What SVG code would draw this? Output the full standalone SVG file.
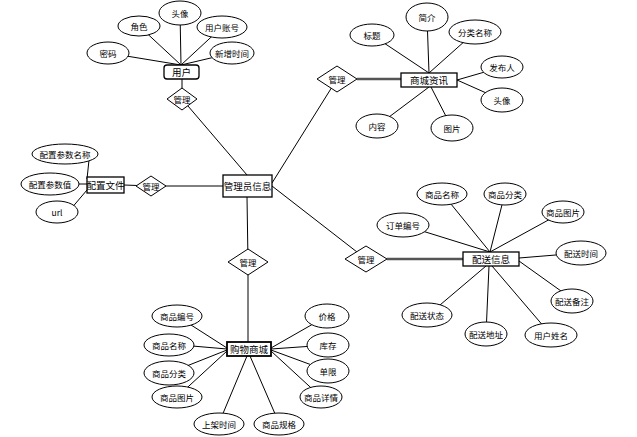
<svg xmlns="http://www.w3.org/2000/svg" width="637" height="437" viewBox="0 0 637 437">
<style>
.bg{fill:#fff}
.ln{stroke:#000;stroke-width:1;fill:none}
.tk{stroke:#555;stroke-width:2.5;fill:none}
.el{fill:#fff;stroke:#000;stroke-width:1}
.bx{fill:#fff;stroke:#000;stroke-width:1.3}
.dm{fill:#fff;stroke:#000;stroke-width:1}
text{font-family:"Noto Sans CJK SC","Liberation Sans",sans-serif;font-size:8.5px;fill:#000;text-anchor:middle;dominant-baseline:central}
.et{font-size:9.5px}
</style>
<rect class="bg" x="0" y="0" width="637" height="437"/>
<g id="connectors">
<line class="ln" x1="108" y1="53" x2="181" y2="65"/>
<line class="ln" x1="139" y1="26" x2="181" y2="65"/>
<line class="ln" x1="180" y1="12" x2="181" y2="65"/>
<line class="ln" x1="222" y1="27" x2="181" y2="65"/>
<line class="ln" x1="232" y1="53" x2="181" y2="65"/>
<line class="ln" x1="182" y1="79" x2="182" y2="99"/>
<line class="ln" x1="182" y1="99" x2="247" y2="175"/>
<line class="ln" x1="337" y1="79" x2="272" y2="183"/>
<line class="tk" x1="357" y1="79" x2="401" y2="79"/>
<line class="ln" x1="372" y1="35" x2="429" y2="73"/>
<line class="ln" x1="427" y1="17" x2="429" y2="73"/>
<line class="ln" x1="475" y1="32" x2="429" y2="73"/>
<line class="ln" x1="502" y1="67" x2="457" y2="80"/>
<line class="ln" x1="502" y1="100" x2="457" y2="80"/>
<line class="ln" x1="377" y1="126" x2="429" y2="87"/>
<line class="ln" x1="452" y1="128" x2="431" y2="87"/>
<line class="ln" x1="89" y1="160" x2="87" y2="179"/>
<line class="ln" x1="79" y1="184" x2="87" y2="184"/>
<line class="ln" x1="70" y1="210" x2="87" y2="190"/>
<line class="ln" x1="124" y1="185" x2="151" y2="186"/>
<line class="ln" x1="151" y1="186" x2="223" y2="186"/>
<line class="ln" x1="247" y1="197" x2="248" y2="262"/>
<line class="ln" x1="248" y1="262" x2="248" y2="342"/>
<line class="ln" x1="177" y1="316" x2="227" y2="348"/>
<line class="ln" x1="169" y1="344" x2="227" y2="349"/>
<line class="ln" x1="169" y1="373" x2="227" y2="350"/>
<line class="ln" x1="177" y1="397" x2="227" y2="351"/>
<line class="ln" x1="219" y1="423" x2="247" y2="356"/>
<line class="ln" x1="279" y1="423" x2="250" y2="356"/>
<line class="ln" x1="327" y1="316" x2="271" y2="348"/>
<line class="ln" x1="328" y1="345" x2="271" y2="349"/>
<line class="ln" x1="328" y1="371" x2="271" y2="350"/>
<line class="ln" x1="321" y1="397" x2="271" y2="351"/>
<line class="ln" x1="272" y1="186" x2="366" y2="259"/>
<line class="tk" x1="387" y1="259" x2="463" y2="259"/>
<line class="ln" x1="442" y1="193" x2="490" y2="252"/>
<line class="ln" x1="505" y1="193" x2="490" y2="252"/>
<line class="ln" x1="563" y1="212" x2="490" y2="252"/>
<line class="ln" x1="403" y1="225" x2="490" y2="252"/>
<line class="ln" x1="580" y1="253" x2="519" y2="258"/>
<line class="ln" x1="575" y1="301" x2="519" y2="261"/>
<line class="ln" x1="551" y1="335" x2="492" y2="266"/>
<line class="ln" x1="486" y1="334" x2="489" y2="266"/>
<line class="ln" x1="427" y1="316" x2="486" y2="266"/>
</g>
<g id="admin"><rect class="bx" x="223" y="175" width="49" height="22"/><text class="et" x="247.5" y="186">管理员信息</text></g>
<g id="user"><rect class="bx" x="164" y="65" width="35" height="14" rx="3"/><text class="et" x="181.5" y="72">用户</text></g>
<g id="user-pwd"><ellipse class="el" cx="108" cy="53" rx="21" ry="11"/><text x="108" y="53">密码</text></g>
<g id="user-role"><ellipse class="el" cx="139" cy="26" rx="21" ry="10"/><text x="139" y="26">角色</text></g>
<g id="user-avatar"><ellipse class="el" cx="180" cy="13" rx="21" ry="12"/><text x="180" y="13">头像</text></g>
<g id="user-account"><ellipse class="el" cx="222" cy="27" rx="25" ry="11"/><text x="222" y="27">用户账号</text></g>
<g id="user-time"><ellipse class="el" cx="232" cy="53" rx="22" ry="11"/><text x="232" y="53">新增时间</text></g>
<g id="rel-user"><polygon class="dm" points="182,88 197,99 182,110 167,99"/><text x="182" y="99">管理</text></g>
<g id="news"><rect class="bx" x="401" y="73" width="56" height="14"/><text class="et" x="429" y="80">商城资讯</text></g>
<g id="rel-news"><polygon class="dm" points="337,66 357,79 337,92 317,79"/><text x="337" y="79">管理</text></g>
<g id="news-title"><ellipse class="el" cx="372" cy="35" rx="22" ry="11"/><text x="372" y="35">标题</text></g>
<g id="news-intro"><ellipse class="el" cx="427" cy="17" rx="21" ry="14"/><text x="427" y="17">简介</text></g>
<g id="news-cat"><ellipse class="el" cx="475" cy="32" rx="26" ry="12"/><text x="475" y="32">分类名称</text></g>
<g id="news-pub"><ellipse class="el" cx="502" cy="67" rx="21" ry="11"/><text x="502" y="67">发布人</text></g>
<g id="news-avatar"><ellipse class="el" cx="502" cy="100" rx="21" ry="12"/><text x="502" y="100">头像</text></g>
<g id="news-content"><ellipse class="el" cx="377" cy="126" rx="21" ry="12"/><text x="377" y="126">内容</text></g>
<g id="news-img"><ellipse class="el" cx="452" cy="128" rx="21" ry="13"/><text x="452" y="128">图片</text></g>
<g id="config"><rect class="bx" x="87" y="177" width="37" height="16"/><text class="et" x="105.5" y="185">配置文件</text></g>
<g id="rel-config"><polygon class="dm" points="151,176 166,186 151,196 136,186"/><text x="151" y="186">管理</text></g>
<g id="cfg-name"><ellipse class="el" cx="65" cy="154" rx="33" ry="10"/><text x="65" y="154">配置参数名称</text></g>
<g id="cfg-val"><ellipse class="el" cx="50" cy="184" rx="29" ry="11"/><text x="50" y="184">配置参数值</text></g>
<g id="cfg-url"><ellipse class="el" cx="57" cy="212" rx="21" ry="11"/><text x="57" y="212">url</text></g>
<g id="rel-shop"><polygon class="dm" points="248,249 268,262 248,275 228,262"/><text x="248" y="262">管理</text></g>
<g id="shop"><rect class="bx" x="227" y="342" width="44" height="14" style="stroke-width:1.8"/><text class="et" x="249" y="349">购物商城</text></g>
<g id="shop-no"><ellipse class="el" cx="177" cy="316" rx="25" ry="11"/><text x="177" y="316">商品编号</text></g>
<g id="shop-name"><ellipse class="el" cx="169" cy="345" rx="25" ry="11"/><text x="169" y="345">商品名称</text></g>
<g id="shop-cat"><ellipse class="el" cx="169" cy="373" rx="25" ry="12"/><text x="169" y="373">商品分类</text></g>
<g id="shop-img"><ellipse class="el" cx="177" cy="397" rx="25" ry="11"/><text x="177" y="397">商品图片</text></g>
<g id="shop-time"><ellipse class="el" cx="219" cy="424" rx="25" ry="11"/><text x="219" y="424">上架时间</text></g>
<g id="shop-spec"><ellipse class="el" cx="279" cy="424" rx="25" ry="11"/><text x="279" y="424">商品规格</text></g>
<g id="shop-price"><ellipse class="el" cx="327" cy="316" rx="22" ry="12"/><text x="327" y="316">价格</text></g>
<g id="shop-stock"><ellipse class="el" cx="328" cy="345" rx="21" ry="12"/><text x="328" y="345">库存</text></g>
<g id="shop-limit"><ellipse class="el" cx="328" cy="371" rx="21" ry="12"/><text x="328" y="371">单限</text></g>
<g id="shop-detail"><ellipse class="el" cx="321" cy="397" rx="21" ry="11"/><text x="321" y="397">商品详情</text></g>
<g id="rel-delivery"><polygon class="dm" points="366,246 387,259 366,272 345,259"/><text x="366" y="259">管理</text></g>
<g id="delivery"><rect class="bx" x="463" y="252" width="56" height="14"/><text class="et" x="491" y="259">配送信息</text></g>
<g id="dl-name"><ellipse class="el" cx="442" cy="194" rx="25" ry="11"/><text x="442" y="194">商品名称</text></g>
<g id="dl-cat"><ellipse class="el" cx="505" cy="194" rx="21" ry="11"/><text x="505" y="194">商品分类</text></g>
<g id="dl-img"><ellipse class="el" cx="563" cy="212" rx="21" ry="11"/><text x="563" y="212">商品图片</text></g>
<g id="dl-order"><ellipse class="el" cx="403" cy="225" rx="26" ry="12"/><text x="403" y="225">订单编号</text></g>
<g id="dl-time"><ellipse class="el" cx="581" cy="253" rx="25" ry="12"/><text x="581" y="253">配送时间</text></g>
<g id="dl-note"><ellipse class="el" cx="572" cy="301" rx="21" ry="12"/><text x="572" y="301">配送备注</text></g>
<g id="dl-user"><ellipse class="el" cx="551" cy="335" rx="26" ry="12"/><text x="551" y="335">用户姓名</text></g>
<g id="dl-addr"><ellipse class="el" cx="486" cy="334" rx="21" ry="12"/><text x="486" y="334">配送地址</text></g>
<g id="dl-status"><ellipse class="el" cx="427" cy="315" rx="25" ry="12"/><text x="427" y="315">配送状态</text></g>
</svg>
